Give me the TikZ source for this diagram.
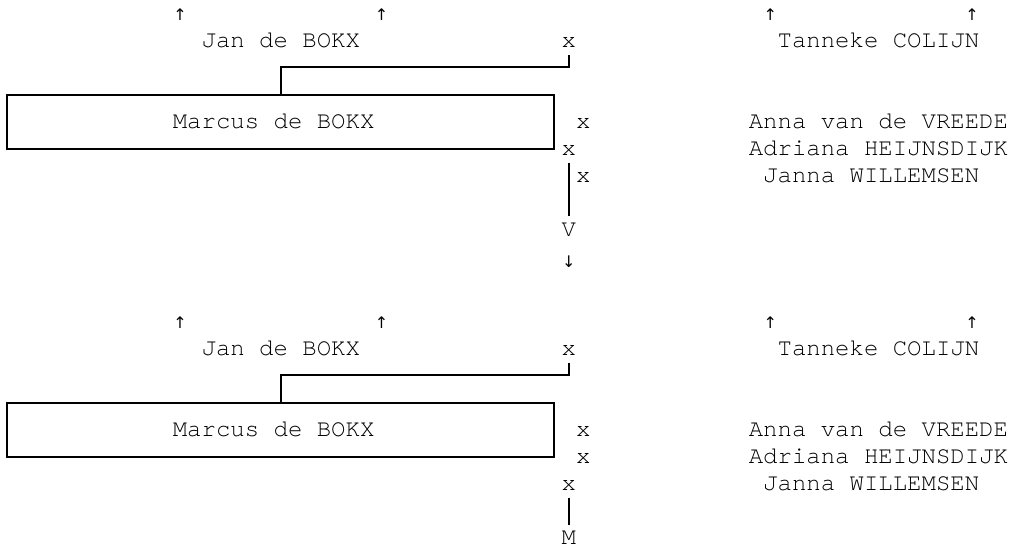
\documentclass[tikz,border=0pt]{standalone}
\usepackage{fontspec}
\setmonofont{TeX Gyre Cursor}
\newfontfamily\arrowfont{DejaVu Sans}
\usetikzlibrary{calc}
\tikzset{
  txt/.style={font=\ttfamily\fontsize{18pt}{20pt}\selectfont, anchor=base, inner sep=0pt, text=black},
  arr/.style={font=\arrowfont\fontsize{12pt}{13pt}\selectfont, anchor=center, inner sep=0pt, text=black},
  famline/.style={line width=1.5pt, draw=black},
  persbox/.style={draw=black, line width=1.5pt, minimum width=410.4pt, minimum height=40.5pt, inner sep=0pt},
}
\begin{document}
\begin{tikzpicture}[x=0.75pt,y=-0.75pt]
\useasboundingbox (0,0) rectangle (1009,548);
% ---------- block 1 ----------
\node[arr] (ua1) at (180,15) {↑};
\node[arr] (ub1) at (381.6,15) {↑};
\node[arr] (uc1) at (770.4,15) {↑};
\node[arr] (ud1) at (972,15) {↑};
\node[txt] (jan1) at (280.8,47.5) {Jan de BOKX};
\node[txt] (xj1) at (568.8,47.5) {x};
\node[txt] (tan1) at (878.4,47.5) {Tanneke COLIJN};
\node[persbox] (box1) at (280.8,122) {};
\node[txt] (mar1) at (273.6,128.5) {Marcus de BOKX};
\node[txt] (xm1) at (583.2,128.5) {x};
\node[txt] (anna1) at (878.4,128.5) {Anna van de VREEDE};
\node[txt] (xa1) at (568.8,155.5) {x};
\node[txt] (adr1) at (878.4,155.5) {Adriana HEIJNSDIJK};
\node[txt] (xw1) at (583.2,182.5) {x};
\node[txt] (jn1) at (871.2,182.5) {Janna WILLEMSEN};
\node[txt] (v1) at (568.8,236.5) {V};
\node[arr] (dn1) at (568.8,262) {↓};
\draw[famline] (box1.north) -- ++(0,-27) -| ($(xj1.south)+(0,7.5)$);
\draw[famline] ($(xa1.south)+(0,7)$) -- ($(v1.north)+(0,-6.5)$);
% ---------- block 2 ----------
\node[arr] (ua2) at (180,323) {↑};
\node[arr] (ub2) at (381.6,323) {↑};
\node[arr] (uc2) at (770.4,323) {↑};
\node[arr] (ud2) at (972,323) {↑};
\node[txt] (jan2) at (280.8,355.5) {Jan de BOKX};
\node[txt] (xj2) at (568.8,355.5) {x};
\node[txt] (tan2) at (878.4,355.5) {Tanneke COLIJN};
\node[persbox] (box2) at (280.8,430) {};
\node[txt] (mar2) at (273.6,436.5) {Marcus de BOKX};
\node[txt] (xm2) at (583.2,436.5) {x};
\node[txt] (anna2) at (878.4,436.5) {Anna van de VREEDE};
\node[txt] (xa2) at (583.2,463.5) {x};
\node[txt] (adr2) at (878.4,463.5) {Adriana HEIJNSDIJK};
\node[txt] (xw2) at (568.8,490.5) {x};
\node[txt] (jn2) at (871.2,490.5) {Janna WILLEMSEN};
\node[txt] (m2) at (568.8,544.5) {M};
\draw[famline] (box2.north) -- ++(0,-27) -| ($(xj2.south)+(0,7.5)$);
\draw[famline] ($(xw2.south)+(0,7)$) -- ($(m2.north)+(0,-6)$);
\end{tikzpicture}
\end{document}
